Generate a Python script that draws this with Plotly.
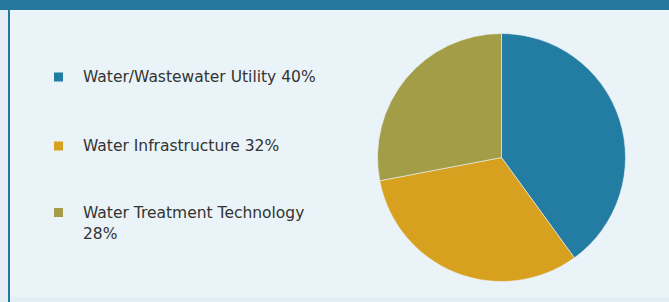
import plotly.graph_objects as go

# ---- data ----
labels = ["Water/Wastewater Utility", "Water Infrastructure", "Water Treatment Technology"]
values = [40, 32, 28]
colors = ["#237CA2", "#D8A01F", "#A39D47"]
legend_texts = ["Water/Wastewater Utility 40%", "Water Infrastructure 32%", "Water Treatment Technology<br>28%"]

W, H = 669, 302

def px(x):
    return x / W

def py(y):
    return 1 - y / H

fig = go.Figure()
fig.add_trace(go.Pie(
    labels=labels,
    values=values,
    marker=dict(colors=colors, line=dict(color="#EAF3F7", width=0.6)),
    sort=False,
    direction="clockwise",
    rotation=0,
    textinfo="none",
    hoverinfo="label+percent",
    showlegend=False,
    domain=dict(x=[px(377.5), px(625.5)], y=[py(281.5), py(33.5)]),
))

shapes = [
    # panel background
    dict(type="rect", xref="paper", yref="paper", x0=px(8), x1=1, y0=py(297), y1=py(10),
         fillcolor="#EAF3F7", line=dict(width=0), layer="below"),
    # left border
    dict(type="rect", xref="paper", yref="paper", x0=px(8), x1=px(10), y0=0, y1=1,
         fillcolor="#2478A0", line=dict(width=0), layer="below"),
    # top bar
    dict(type="rect", xref="paper", yref="paper", x0=0, x1=1, y0=py(10), y1=1,
         fillcolor="#25789C", line=dict(width=0), layer="below"),
]

annotations = []
row_centers = [77, 146, 212.5]
line_gap = 21
for i, (txt, col) in enumerate(zip(legend_texts, colors)):
    cy = row_centers[i]
    shapes.append(dict(type="rect", xref="paper", yref="paper",
                       x0=px(54), x1=px(63), y0=py(cy + 4.5), y1=py(cy - 4.5),
                       fillcolor=col, line=dict(width=0)))
    for j, line in enumerate(txt.split("<br>")):
        annotations.append(dict(
            x=px(81), y=py(cy + j * line_gap), xref="paper", yref="paper",
            xanchor="left", yanchor="middle", align="left", showarrow=False,
            text=line, font=dict(family="DejaVu Sans", size=15.5, color="#333333"),
        ))

fig.update_layout(
    width=W, height=H,
    margin=dict(l=0, r=0, t=0, b=0),
    paper_bgcolor="#E3EEF5",
    plot_bgcolor="#E3EEF5",
    shapes=shapes,
    annotations=annotations,
    showlegend=False,
)

fig.write_html("out.html", config={"displayModeBar": False},
               post_script="document.body.style.margin='0';document.body.style.overflow='hidden';")
